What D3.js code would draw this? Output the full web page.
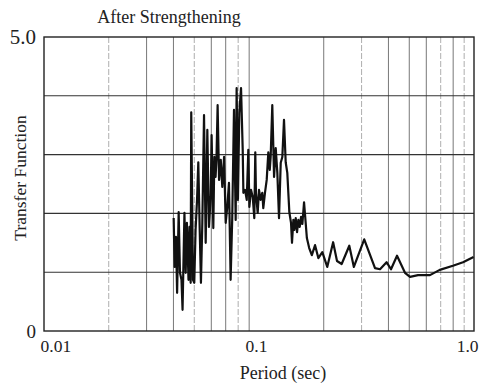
<!DOCTYPE html>
<html>
<head>
<meta charset="utf-8">
<script src="https://cdn.jsdelivr.net/npm/d3@7"></script>
<style>
  body { margin: 0; background: #fff; }
</style>
</head>
<body>
<svg id="chart"></svg>
<script>
// period (sec)
const period = [
  0.0401, 0.0405, 0.0411, 0.0416, 0.0423, 0.0429, 0.0436, 0.0441, 0.0450, 0.0456,
  0.0462, 0.0470, 0.0475, 0.0481, 0.0484, 0.0493, 0.0500, 0.0507, 0.0515, 0.0522,
  0.0530, 0.0537, 0.0545, 0.0555, 0.0565, 0.0575, 0.0585, 0.0596, 0.0602, 0.0613,
  0.0620, 0.0628, 0.0634, 0.0642, 0.0652, 0.0664, 0.0675, 0.0688, 0.0700, 0.0712,
  0.0725, 0.0738, 0.0751, 0.0765, 0.0779, 0.0787, 0.0798, 0.0810, 0.0825, 0.0840,
  0.0846, 0.0861, 0.0877, 0.0892, 0.0902, 0.0918, 0.0935, 0.0951, 0.0961, 0.0968,
  0.0986, 0.1000, 0.1018, 0.1036, 0.1047, 0.1066, 0.1086, 0.1105, 0.1122, 0.1133,
  0.1153, 0.1175, 0.1196, 0.1217, 0.1239, 0.1262, 0.1284, 0.1307, 0.1331, 0.1354,
  0.1384, 0.1409, 0.1424, 0.1445, 0.1460, 0.1482, 0.1503, 0.1524, 0.1547, 0.1569,
  0.1591, 0.1620, 0.1670, 0.1712, 0.1761, 0.1823, 0.1888, 0.1970, 0.2077, 0.2212,
  0.2306, 0.2424, 0.2630, 0.2762, 0.3086, 0.3464, 0.3655, 0.3920, 0.4111, 0.4385,
  0.4776, 0.5040, 0.5490, 0.6240, 0.6930, 0.7980, 0.8890, 0.9950
];
const transfer = [
  1.92, 1.09, 1.60, 0.65, 2.02, 0.99, 0.87, 0.36, 2.01, 0.99,
  1.84, 0.87, 1.77, 0.82, 3.72, 0.87, 0.82, 1.72, 2.23, 2.87,
  1.72, 0.82, 1.84, 3.67, 1.50, 3.42, 1.77, 2.28, 3.33, 1.75,
  2.96, 2.62, 2.91, 3.84, 2.57, 2.91, 2.45, 2.96, 1.84, 2.11,
  2.52, 0.87, 1.94, 3.76, 1.89, 4.13, 2.23, 3.71, 4.13, 3.08,
  2.35, 2.40, 2.23, 3.08, 2.11, 2.40, 2.28, 1.92, 3.04, 2.35,
  2.01, 2.40, 2.23, 2.35, 2.09, 2.35, 2.57, 3.04, 2.74, 2.96,
  3.84, 2.62, 3.11, 2.69, 1.92, 2.86, 2.96, 3.59, 2.87, 2.69,
  2.02, 1.84, 1.50, 1.89, 1.72, 1.92, 1.68, 1.89, 1.77, 1.94,
  1.82, 2.19, 1.58, 1.41, 1.29, 1.46, 1.24, 1.34, 1.09, 1.51,
  1.19, 1.14, 1.45, 1.09, 1.56, 1.07, 1.05, 1.17, 1.05, 1.28,
  0.99, 0.92, 0.95, 0.95, 1.04, 1.11, 1.17, 1.26
];
const xLabels = [0.01, 0.1, 1.0];
const xMinor = [0.02, 0.03, 0.04, 0.05, 0.06, 0.07, 0.08, 0.09, 0.2, 0.3, 0.4, 0.5, 0.6, 0.7, 0.8, 0.9];
const yGrid = [1, 2, 3, 4];
const yLabels = [0, 5];

const width = 484, height = 385;
const margin = {top: 37, right: 10, bottom: 54, left: 44};
const serif = '"Liberation Serif", "DejaVu Serif", serif';

const svg = d3.select("#chart")
  .attr("width", width)
  .attr("height", height);

svg.append("rect").attr("width", width).attr("height", height).attr("fill", "#fff");

const x = d3.scaleLog().domain([0.01, 1]).range([margin.left, width - margin.right]);
const y = d3.scaleLinear().domain([0, 5]).range([height - margin.bottom, margin.top]);

// the faint dashed lines on the scan
const dashed = [0.02, 0.05, 0.08, 0.3, 0.7, 0.9];

svg.append("g")
  .selectAll("line")
  .data(xMinor)
  .enter().append("line")
    .attr("x1", d => x(d)).attr("x2", d => x(d))
    .attr("y1", y(0)).attr("y2", y(5))
    .attr("stroke", d => dashed.includes(d) ? "#999" : "#555")
    .attr("stroke-width", 0.8)
    .attr("stroke-dasharray", d => dashed.includes(d) ? "6,2" : null);

svg.append("g")
  .selectAll("line")
  .data(yGrid)
  .enter().append("line")
    .attr("x1", x(0.01)).attr("x2", x(1))
    .attr("y1", d => y(d)).attr("y2", d => y(d))
    .attr("stroke", "#333")
    .attr("stroke-width", 1.1);

// frame
svg.append("rect")
  .attr("x", x(0.01)).attr("y", y(5))
  .attr("width", x(1) - x(0.01)).attr("height", y(0) - y(5))
  .attr("fill", "none")
  .attr("stroke", "#222")
  .attr("stroke-width", 1.4);

const pts = period.map((p, i) => [p, transfer[i]]);
const line = d3.line()
  .x(d => x(d[0]))
  .y(d => y(d[1]));

svg.append("path")
  .datum(pts)
  .attr("d", line)
  .attr("fill", "none")
  .attr("stroke", "#111")
  .attr("stroke-width", 2.2)
  .attr("stroke-linejoin", "round");

// x axis labels
const xAxis = svg.append("g")
  .attr("transform", "translate(0," + y(0) + ")")
  .call(d3.axisBottom(x).tickValues(xLabels).tickSize(0).tickPadding(9)
    .tickFormat(d => d === 0.01 ? "0.01" : d === 0.1 ? "0.1" : "1.0"));
xAxis.select(".domain").remove();
xAxis.selectAll("text")
  .style("font-size", "17.5px")
  .style("font-family", serif)
  .attr("fill", "#222")
  .attr("text-anchor", (d, i) => i === 0 ? "start" : i === xLabels.length - 1 ? "end" : "middle")
  .attr("dx", (d, i) => i === 0 ? -4 : i === xLabels.length - 1 ? 4 : -3);

// y axis labels
const yAxis = svg.append("g")
  .attr("transform", "translate(" + x(0.01) + ",0)")
  .call(d3.axisLeft(y).tickValues(yLabels).tickSize(0).tickPadding(8)
    .tickFormat(d => d === 0 ? "0" : "5.0"));
yAxis.select(".domain").remove();
yAxis.selectAll("text")
  .style("font-size", d => d === 0 ? "19px" : "21px")
  .style("font-family", serif)
  .attr("fill", "#222");

svg.append("text")
  .attr("x", 169).attr("y", 23)
  .attr("text-anchor", "middle")
  .style("font-family", serif)
  .style("font-size", "18px")
  .attr("fill", "#222")
  .text("After Strengthening");

svg.append("text")
  .attr("x", 283).attr("y", 379)
  .attr("text-anchor", "middle")
  .style("font-family", serif)
  .style("font-size", "18px")
  .attr("fill", "#222")
  .text("Period (sec)");

svg.append("text")
  .attr("transform", "translate(26,178) rotate(-90)")
  .attr("text-anchor", "middle")
  .style("font-family", serif)
  .style("font-size", "17.5px")
  .attr("fill", "#222")
  .text("Transfer Function");
</script>
</body>
</html>
